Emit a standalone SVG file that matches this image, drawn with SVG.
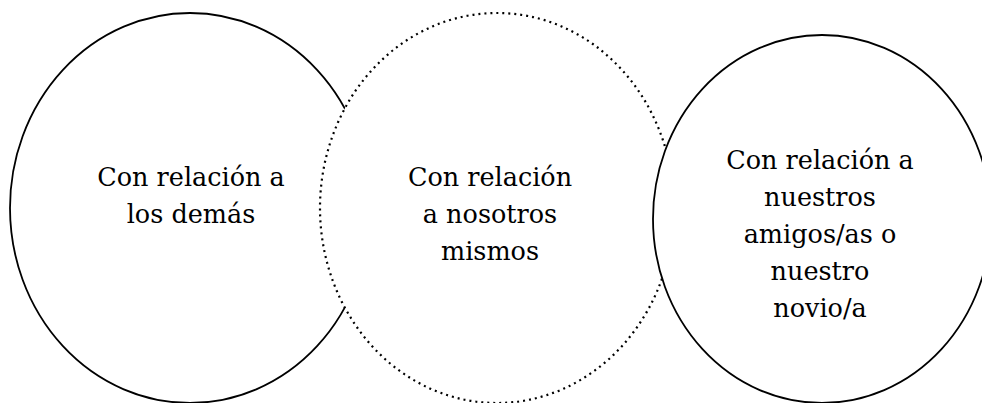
<svg xmlns="http://www.w3.org/2000/svg" width="982" height="403" viewBox="0 0 982 403">
<style>
.solid{fill:#fff;stroke:#000;stroke-width:1.8}
.dotted{fill:#fff;stroke:#000;stroke-width:2.2;stroke-dasharray:2 4}
.lbl{font-family:"DejaVu Serif","Liberation Serif",serif;font-size:25.5px;fill:#000;text-anchor:middle}
</style>
<rect width="982" height="403" fill="#fff"/>
<g id="node-left">
<ellipse class="solid" cx="190" cy="208" rx="180" ry="195"/>
<text class="lbl" x="191" y="186">Con relación a</text>
<text class="lbl" x="191" y="223">los demás</text>
</g>
<g id="node-middle">
<ellipse class="dotted" cx="497" cy="208" rx="177" ry="195"/>
<text class="lbl" x="490" y="186">Con relación</text>
<text class="lbl" x="490" y="223">a nosotros</text>
<text class="lbl" x="490" y="260">mismos</text>
</g>
<g id="node-right">
<ellipse class="solid" cx="822" cy="219" rx="169" ry="184"/>
<text class="lbl" x="820" y="169">Con relación a</text>
<text class="lbl" x="820" y="206">nuestros</text>
<text class="lbl" x="820" y="243">amigos/as o</text>
<text class="lbl" x="820" y="280">nuestro</text>
<text class="lbl" x="820" y="317">novio/a</text>
</g>
<g id="connectors"></g>
</svg>
